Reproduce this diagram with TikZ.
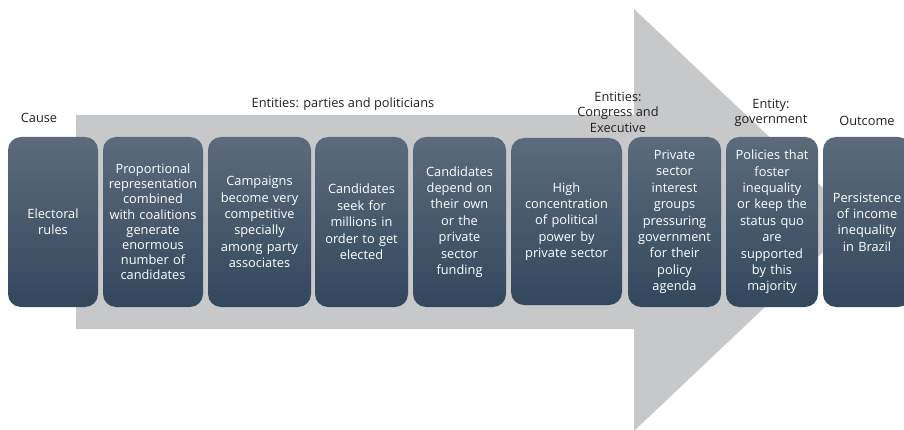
\documentclass[tikz,border=0pt]{standalone}
\usepackage{fontspec}
\setmainfont{Open Sans}
\definecolor{boxtop}{HTML}{5C6B7B}
\definecolor{boxbot}{HTML}{33475D}
\definecolor{arrowgray}{HTML}{C6C8CA}
\definecolor{labelcol}{HTML}{231F20}
\begin{document}
\begin{tikzpicture}[x=1pt,y=-1pt,
  box/.style={rounded corners=13pt, top color=boxtop, bottom color=boxbot, draw=none,
    text=white, align=center, inner sep=0pt,
    font=\fontsize{12.8}{16.4}\selectfont},
  tightbox/.style={font=\fontsize{12.8}{15.2}\selectfont},
  lbl/.style={text=labelcol, align=center, inner sep=0pt,
    font=\fontsize{12.8}{15.5}\selectfont}]
\useasboundingbox (0,0) rectangle (904,430);
\clip (0,0) rectangle (904,430);
\fill[arrowgray] (76,115) -- (634,115) -- (634,9) -- (857,220) -- (634,431) -- (634,329) -- (76,329) -- cycle;
\newcommand{\mkbox}[7][]{%
  \node[box, #1, minimum width=#4-#3, minimum height=#6-#5, text width=#4-#3-2pt] (#2) at ({(#3+#4)/2},{(#5+#6)/2}) {#7};}
\mkbox{b1}{8}{98}{137}{307}{Electoral\\rules}
\mkbox[tightbox]{b2}{103}{203}{137}{307}{Proportional\\representation\\combined\\with coalitions\\generate\\enormous\\number of\\candidates}
\mkbox{b3}{208}{311}{137}{307}{Campaigns\\become very\\competitive\\specially\\among party\\associates}
\mkbox{b4}{315}{408}{137}{307}{Candidates\\seek for\\millions in\\order to get\\elected}
\mkbox{b5}{413}{506}{137}{307}{Candidates\\depend on\\their own\\or the\\private\\sector\\funding}
\mkbox{b6}{511}{622}{138}{305}{High\\concentration\\of political\\power by\\private sector}
\mkbox{b7}{628}{721}{137}{307}{Private\\sector\\interest\\groups\\pressuring\\government\\for their\\policy\\agenda}
\mkbox{b8}{726}{818}{137}{307}{Policies that\\foster\\inequality\\or keep the\\status quo\\are\\supported\\by this\\majority}
\mkbox{b9}{823}{911}{137}{307}{Persistence\\of income\\inequality\\in Brazil}
\node[lbl] (lcause) at (39,118) {Cause};
\node[lbl] (lparties) at (343,104) {Entities: parties and politicians};
\node[lbl] (lcongress) at (618,112) {Entities:\\Congress and\\Executive};
\node[lbl] (lgov) at (771,113) {Entity:\\government};
\node[lbl] (loutcome) at (867,121) {Outcome};
\end{tikzpicture}
\end{document}
